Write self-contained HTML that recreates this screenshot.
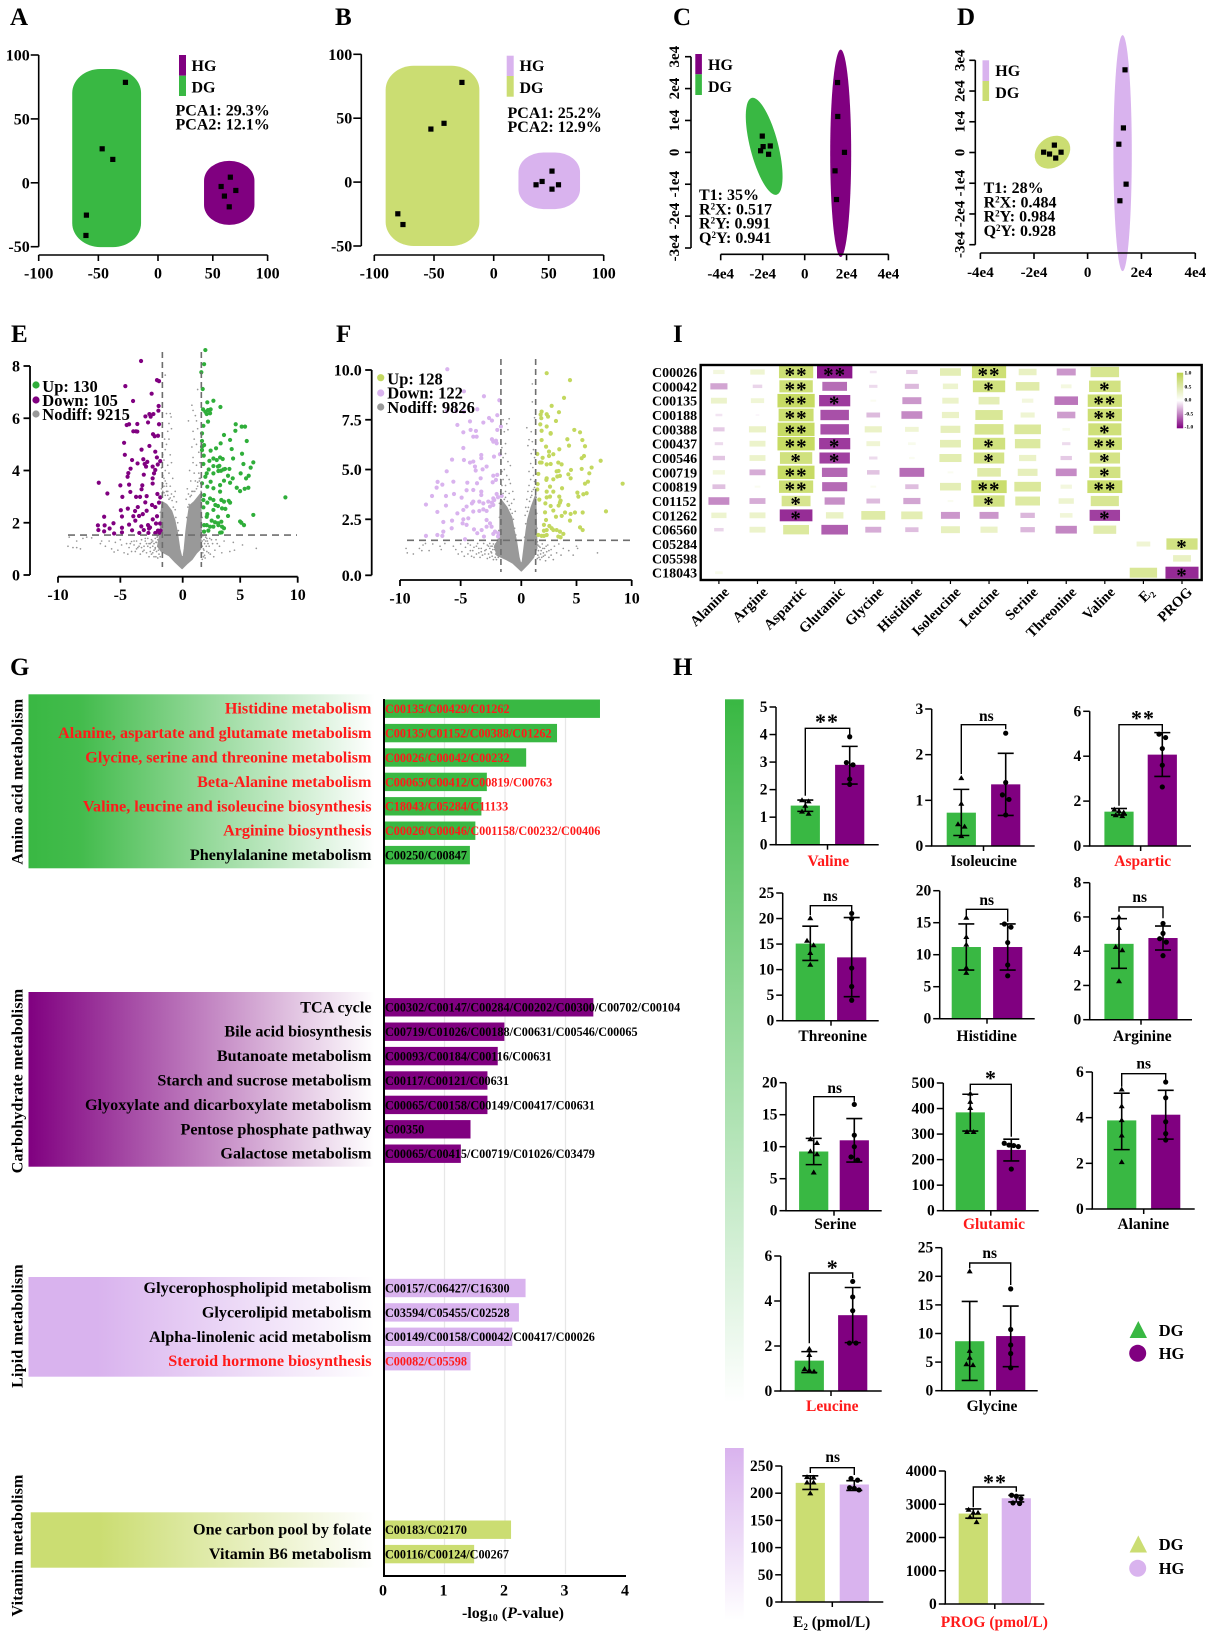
<!DOCTYPE html>
<html lang="en">
<head>
<meta charset="utf-8">
<title>Metabolomics multi-panel figure</title>
<style>
html,body{margin:0;padding:0;background:#fff;}
svg{display:block;font-family:"Liberation Serif",serif;font-weight:bold;}
</style>
</head>
<body>
<svg id="figure" xmlns="http://www.w3.org/2000/svg" width="1211" height="1637" viewBox="0 0 1211 1637">
<defs>
<linearGradient id="gGreen" x1="0" x2="1" y1="0" y2="0"><stop offset="0" stop-color="#39b843"/><stop offset=".15" stop-color="#39b843" stop-opacity=".95"/><stop offset="1" stop-color="#39b843" stop-opacity="0"/></linearGradient>
<linearGradient id="gPurple" x1="0" x2="1" y1="0" y2="0"><stop offset="0" stop-color="#800080"/><stop offset="1" stop-color="#800080" stop-opacity="0"/></linearGradient>
<linearGradient id="gLilac" x1="0" x2="1" y1="0" y2="0"><stop offset="0" stop-color="#d9b3ee"/><stop offset=".2" stop-color="#d9b3ee"/><stop offset="1" stop-color="#d9b3ee" stop-opacity="0"/></linearGradient>
<linearGradient id="gOlive" x1="0" x2="1" y1="0" y2="0"><stop offset="0" stop-color="#cbdd72"/><stop offset=".2" stop-color="#cbdd72"/><stop offset="1" stop-color="#cbdd72" stop-opacity="0"/></linearGradient>
<linearGradient id="vGreen" x1="0" x2="0" y1="0" y2="1"><stop offset="0" stop-color="#39b843"/><stop offset="1" stop-color="#39b843" stop-opacity="0"/></linearGradient>
<linearGradient id="vLilac" x1="0" x2="0" y1="0" y2="1"><stop offset="0" stop-color="#d9b3ee"/><stop offset="1" stop-color="#d9b3ee" stop-opacity="0"/></linearGradient>
<linearGradient id="vBar" x1="0" x2="0" y1="0" y2="1"><stop offset="0" stop-color="#bcd24f"/><stop offset=".5" stop-color="#ffffff"/><stop offset="1" stop-color="#800080"/></linearGradient>
</defs>

<g font-size="25" fill="#000">
<text x="10" y="25">A</text>
<text x="335" y="25">B</text>
<text x="673" y="25">C</text>
<text x="957" y="25">D</text>
<text x="11" y="342">E</text>
<text x="336" y="342">F</text>
<text x="673" y="342">I</text>
<text x="10" y="675">G</text>
<text x="673" y="675">H</text>
</g>

<g id="panelA"></g>
<g font-size="16">
<rect x="179" y="55" width="7" height="20.7" fill="#800080"/>
<rect x="179" y="75.7" width="7" height="20.3" fill="#39b843"/>
<text x="191.5" y="71">HG</text>
<text x="191.5" y="92.5">DG</text>
<text x="175.5" y="115.5">PCA1: 29.3%</text>
<text x="175.5" y="129.5">PCA2: 12.1%</text>
</g>

<g id="panelB"></g>
<g font-size="16">
<rect x="506.7" y="55.7" width="7" height="20.3" fill="#d9b3ee"/>
<rect x="506.7" y="76" width="7" height="20.7" fill="#cbdd72"/>
<text x="519.5" y="71">HG</text>
<text x="519.5" y="93">DG</text>
<text x="507.5" y="118">PCA1: 25.2%</text>
<text x="507.5" y="132">PCA2: 12.9%</text>
</g>

<g id="panelC"></g>
<g font-size="16">
<rect x="695.3" y="54" width="6.6" height="20.3" fill="#800080"/>
<rect x="695.3" y="74.3" width="6.6" height="20.7" fill="#39b843"/>
<text x="708" y="70">HG</text>
<text x="708" y="92">DG</text>
<text x="699" y="200">T1: 35%</text>
<text x="699" y="214.3">R<tspan font-size="9" dy="-5">2</tspan><tspan dy="5">X: 0.517</tspan></text>
<text x="699" y="228.7">R<tspan font-size="9" dy="-5">2</tspan><tspan dy="5">Y: 0.991</tspan></text>
<text x="699" y="243">Q<tspan font-size="9" dy="-5">2</tspan><tspan dy="5">Y: 0.941</tspan></text>
</g>

<g id="panelD"></g>
<g font-size="16">
<rect x="982.5" y="60.3" width="6.6" height="20.7" fill="#d9b3ee"/>
<rect x="982.5" y="81" width="6.6" height="20" fill="#cbdd72"/>
<text x="995.3" y="76">HG</text>
<text x="995.3" y="98">DG</text>
<text x="983.6" y="193">T1: 28%</text>
<text x="983.6" y="207.5">R<tspan font-size="9" dy="-5">2</tspan><tspan dy="5">X: 0.484</tspan></text>
<text x="983.6" y="221.7">R<tspan font-size="9" dy="-5">2</tspan><tspan dy="5">Y: 0.984</tspan></text>
<text x="983.6" y="236">Q<tspan font-size="9" dy="-5">2</tspan><tspan dy="5">Y: 0.928</tspan></text>
</g>

<g id="panelE"></g>
<g font-size="16.5">
<circle cx="36" cy="385" r="3.6" fill="#2fae3a"/>
<circle cx="36" cy="400" r="3.6" fill="#800080"/>
<circle cx="36" cy="414" r="3.6" fill="#999"/>
<text x="42.3" y="392">Up: 130</text>
<text x="42.3" y="406">Down: 105</text>
<text x="42.3" y="420">Nodiff: 9215</text>
</g>

<g id="panelF"></g>
<g font-size="16.5">
<circle cx="380.7" cy="377.7" r="3.6" fill="#c3d85f"/>
<circle cx="380.7" cy="393" r="3.6" fill="#d9b3ee"/>
<circle cx="380.7" cy="407" r="3.6" fill="#999"/>
<text x="387.3" y="384.5">Up: 128</text>
<text x="387.3" y="398.5">Down: 122</text>
<text x="387.3" y="413">Nodiff: 9826</text>
</g>

<g id="panelI"></g>
<g font-size="5.5">
<rect x="1176.8" y="372.7" width="6.4" height="55.6" fill="url(#vBar)"/>
<text x="1184.5" y="374.7">1.0</text>
<text x="1184.5" y="388.3">0.5</text>
<text x="1184.5" y="401.3">0.0</text>
<text x="1184.5" y="415.3">-0.5</text>
<text x="1184.5" y="428.7">-1.0</text>
</g>

<g>
<rect x="28.5" y="694.3" width="346" height="174" fill="url(#gGreen)"/>
<rect x="28.5" y="992" width="346" height="174.7" fill="url(#gPurple)"/>
<rect x="28.5" y="1277" width="346" height="99.7" fill="url(#gLilac)"/>
<rect x="30.7" y="1512.3" width="344" height="55.4" fill="url(#gOlive)"/>
</g>
<g font-size="16" text-anchor="middle" letter-spacing=".2">
<text transform="translate(22.5 781.7) rotate(-90)">Amino acid metabolism</text>
<text transform="translate(22.5 1081) rotate(-90)">Carbohydrate metabolism</text>
<text transform="translate(22.5 1326) rotate(-90)">Lipid metabolism</text>
<text transform="translate(22.5 1545.5) rotate(-90)">Vitamin metabolism</text>
</g>
<g id="panelG"></g>
<text x="513" y="1618" font-size="16" text-anchor="middle">-log<tspan font-size="10" dy="3">10</tspan><tspan dy="-3"> (</tspan><tspan font-style="italic">P</tspan>-value)</text>

<rect x="725" y="699.3" width="18.7" height="703.7" fill="url(#vGreen)"/>
<rect x="725" y="1448" width="18.7" height="172" fill="url(#vLilac)"/>
<g id="panelH"></g>
<g font-size="16.5">
<path d="M1138.3 1321 L1147 1338 L1129.6 1338 Z" fill="#39b843"/>
<circle cx="1137.7" cy="1353.3" r="8.5" fill="#800080"/>
<text x="1158.7" y="1336">DG</text>
<text x="1158.7" y="1359">HG</text>
</g>
<g font-size="16.5">
<path d="M1138.3 1535.5 L1147 1552.5 L1129.6 1552.5 Z" fill="#cbdd72"/>
<circle cx="1137.7" cy="1568.3" r="8.5" fill="#d9b3ee"/>
<text x="1158.7" y="1550">DG</text>
<text x="1158.7" y="1574">HG</text>
</g>
</svg>

<script>
/* ---------- PCA / OPLS data (axis units) ---------- */
const pcaTicksX = [-100, -50, 0, 50, 100];
const pcaTicksY = [-50, 0, 50, 100];
const aDG = [[-27.3,78.6],[-46.8,26.6],[-37.9,18.3],[-60,-25.3],[-60.4,-41.2]];
const aHG = [[66,4.4],[57.6,-2.9],[71,-6],[60.6,-10.4],[65,-18.8]];
const aHullDG = [-71.9,-14.2,-50.3,89];
const aHullHG = [42,88,-32.9,17.2];
const bDG = [[-26.6,78],[-41.6,46],[-52.6,41.5],[-80.3,-24.8],[-76,-33.2]];
const bHG = [[53,8.6],[44,0.5],[38.5,-2.1],[58.9,-2.1],[53,-5.5]];
const bHullDG = [-90.5,-12,-50,91];
const bHullHG = [22.5,78.5,-21.1,23.2];
const oplsTickValuesX = [-4, -2, 0, 2, 4];
const oplsTickLabelsX = ['-4e4','-2e4','0','2e4','4e4'];
const oplsTickValuesY = [-3, -2, -1, 0, 1, 2, 3];
const oplsTickLabelsY = ['-3e4','-2e4','-1e4','0','1e4','2e4','3e4'];
const cDG = [[-2.02,.51],[-1.98,.18],[-1.64,.2],[-2.1,.05],[-1.72,-.06]];
const cHG = [[1.57,2.19],[1.58,1.125],[1.9,0],[1.45,-.58],[1.52,-1.48]];
const cCentreDG = [-1.93,.19];
const cCentreHG = [1.72,-.03];
const dDG = [[-1.64,.01],[-1.42,-.05],[-1.24,.24],[-1.19,-.18],[-.99,.01]];
const dHG = [[1.39,2.69],[1.33,.8],[1.16,.27],[1.43,-1.03],[1.2,-1.57]];
const dCentreDG = [-1.31,.01];
const dCentreHG = [1.3,-.02];

/* ---------- Volcano E (log2FC, -log10 p) ---------- */
const volcanoTicksX = [-10,-5,0,5,10];
const eTicksY = [0,2,4,6,8];
const fTicksY = [0,2.5,5,7.5,10];
const fTickLabelsY = ['0.0','2.5','5.0','7.5','10.0'];
const eThreshold = [-1.63,1.62,1.53];
const fThreshold = [-1.68,1.3,1.56];
const eDown = [[-3.34,8.19],[-4.6,7.23],[-2.06,7.46],[-1.9,7.42],[-2.49,6.94],[-3.98,6.66],[-1.93,6.47],[-1.95,6.29],[-2.67,6.16],[-2.99,6.07],[-2.35,6.16],[-2.57,6.06],[-1.9,5.77],[-4.49,5.74],[-4.3,5.77],[-3.64,5.78],[-3.96,5.5],[-3.64,5.49],[-3.75,5.5],[-2.78,5.84],[-2.38,5.39],[-2.25,5.31],[-1.98,5.33],[-4.7,5.06],[-3.3,4.8],[-2.67,4.94],[-2.2,4.72],[-2.07,4.5],[-4.64,4.6],[-4.06,4.4],[-3.16,4.43],[-2.84,4.33],[-3.62,4.27],[-3.05,4.25],[-2.94,4.15],[-2.41,4.15],[-1.8,4.36],[-2,4.23],[-4.18,4.07],[-4.36,3.9],[-4.42,3.76],[-3.12,3.84],[-2.41,3.7],[-2.2,4.02],[-2.3,3.89],[-2.41,3.5],[-6.73,3.53],[-5,3.43],[-4.3,3.46],[-3.24,3.43],[-3.3,3.28],[-4.2,3.18],[-6.04,3.12],[-4.84,2.99],[-3.74,2.99],[-3.42,2.99],[-2.89,3.02],[-2.03,3.1],[-1.8,2.97],[-1.9,2.77],[-3,2.78],[-2.46,2.68],[-2.2,2.6],[-3.6,2.6],[-4.4,2.54],[-4.96,2.48],[-6.3,2.23],[-3.82,2.45],[-2.89,2.46],[-3.2,2.33],[-3.96,2.25],[-3.5,2.26],[-4.87,2.24],[-2.4,2.13],[-2.06,2.25],[-3.8,2.08],[-5.55,1.98],[-6.8,1.9],[-6.26,1.9],[-4.3,1.93],[-3.32,1.86],[-2.78,1.91],[-2.62,1.82],[-2.14,1.97],[-1.82,1.97],[-6.76,1.72],[-6.3,1.67],[-5.86,1.78],[-4.87,1.81],[-4.06,1.71],[-3.12,1.72],[-2.7,1.78],[-1.98,1.7],[-1.77,1.7],[-5.5,1.59],[-4.87,1.63],[-3.48,1.61],[-2.75,1.61],[-2.2,1.61],[-1.88,1.61]];
const eUp = [[1.97,8.61],[1.86,8.07],[1.62,7.76],[1.74,7.12],[2.67,6.67],[2.14,6.61],[1.77,6.34],[1.97,6.25],[2.2,6.31],[2.43,6.34],[3.28,6.43],[2.09,6.16],[2.38,6.19],[2.2,5.87],[1.8,5.71],[4.61,5.77],[5.42,5.68],[5.13,5.68],[4.58,5.52],[1.68,5.42],[3.59,5.36],[1.68,5.13],[4.12,5.17],[5.57,5.13],[1.68,4.91],[1.86,4.97],[1.68,4.78],[3.3,5.04],[2.9,4.85],[2.43,4.76],[4.26,4.82],[1.83,4.57],[2.67,4.46],[2.32,4.37],[2.96,4.4],[3.25,4.5],[3.48,4.44],[5.16,4.64],[4.38,4.46],[5.28,4.25],[6.14,4.31],[1.8,4.25],[2.26,4.04],[2.67,4.17],[3.07,4.15],[3.19,4.18],[3.54,4.04],[3.33,3.99],[3.1,3.98],[4.06,4.06],[3.68,4.06],[5.91,4.11],[5.04,3.89],[2.67,3.89],[2.09,3.89],[1.97,3.76],[3.94,3.8],[4.35,3.7],[5.74,3.8],[5.51,3.7],[2.43,3.57],[1.68,3.51],[3.59,3.61],[3.25,3.44],[4.12,3.53],[4.7,3.34],[4.99,3.21],[5.39,3.3],[5.71,3.34],[2.14,3.38],[2.67,3.32],[3.25,3.19],[1.86,3.06],[2.38,2.93],[2.67,2.87],[3.36,2.87],[1.8,2.87],[2.14,2.77],[2.84,2.68],[3.07,2.64],[4,2.84],[4.12,2.77],[3.59,2.81],[3.42,2.55],[3.71,2.53],[1.8,2.59],[2.67,2.49],[2.14,2.33],[6.14,2.3],[3.07,2.23],[3.94,2.26],[2.09,2.23],[2.52,2.08],[2.81,2.02],[3.07,1.98],[3.36,2.04],[4.99,2.05],[5.1,2],[5.33,1.91],[1.86,1.91],[2.09,1.91],[2.38,1.85],[2.67,1.85],[3.1,1.91],[3.42,1.85],[3.59,1.79],[1.86,1.66],[2.23,1.7],[3.25,1.62],[3.39,1.63],[8.93,2.97]];
const eNodiff = [[-9.2,1.1],[-8.8,1.05],[-8.5,1.05],[-8.2,1],[-9.1,1.45],[-8.5,1.3],[-8,1.4],[-7.7,1.45],[-7.3,1.42],[-6.5,1.3],[-6.6,1.2],[-5.7,1],[-5.5,.88],[-5.2,.95],[-4.7,.85],[-4.4,.8],[-5,1.35],[-4.1,1.28],[-3.4,1.2],[-2.9,1.2],[-3.1,.95],[-3.8,.9],[-3.4,.8],[-2.3,.95],[-2.9,.85],[-2.5,1.35],[-6.2,1.1],[-5.9,1.3],[-5.4,1.25],[-4.9,1.15],[-4.5,1.2],[-4.3,1.05],[-3.9,1.15],[-3.7,1.3],[-3.6,1.05],[-3.3,1.35],[-3.1,1.1],[-2.8,1.4],[-2.6,1.05],[-2.5,.8],[-2.3,1.2],[-2.2,1.4],[-2.1,.9],[-2,1.1],[-1.9,.8],[-2.7,1.2],[-2.4,1.1],[-2.1,1.25],[-2.2,1.05],[-2,1.35],[2,1.3],[2.1,.9],[2.3,1.1],[2.4,.8],[2.6,1.2],[2.8,.95],[2.9,1.35],[3.2,1.1],[3.4,.85],[3.6,1.3],[4.1,.9],[4.4,1.25],[4.5,.95],[5.2,1.15],[6.4,1.02],[1.8,1],[1.9,.75],[1.7,.6],[-1.8,.7],[1.9,1.2],[2.1,1.4],[-1.4,7.65],[-1,6.18],[-1.3,6.18],[-.93,6.05],[-1.1,5.8],[-.9,5.6],[-1.2,5.5],[-1.1,5.2],[-1.3,5],[-1.4,4.8],[-1,4.6],[-1.5,4.4],[-1.2,4.2],[-.9,4.3],[-1.4,4],[-1.6,3.8],[-1.1,3.9],[-1.4,3.6],[-.8,3.7],[-1,3.4],[-1.5,3.4],[-.6,3.2],[-.7,3],[-.5,2.8],[-1.2,3.2],[-1.3,3.5],[-.9,3.1],[-1.6,4.6],[-1.45,5.2],[.8,6.5],[.9,6.3],[1.1,6.1],[1.3,7.1],[1.2,5.9],[.5,5.9],[.9,5.5],[1.3,5.6],[1,5.2],[1.2,5],[.8,4.9],[1.4,4.7],[.9,4.5],[.9,4.3],[1.2,4.2],[.6,4],[1,3.9],[1.4,3.9],[.7,3.6],[1.1,3.6],[.4,3.3],[.5,3.1],[.8,3.2],[1.3,3.4],[.3,2.9],[1.5,4.3],[1.45,3.7],
[-1.7,3.3],[-1.6,3.2],[-1.5,3.15],[-1.4,3.05],[-1.3,3.2],[-1.2,3.05],[-1.1,2.9],[-1,2.95],[-.85,2.85],[-.75,2.6],[-.6,2.5],[-.55,2.2],[-.4,2],[-.35,1.7],[-1.75,2.8],[-1.8,2.4],[-1.85,2],[-1.9,1.7],[-2,1.5],[-2.15,1.25],[-1.6,3.5],[-1.3,3.4],[-1.5,3.7],[-1.7,4.1],[.55,2.7],[.65,3],[.75,3.05],[.9,3.2],[1.05,3.2],[1.2,3.3],[1.3,3.55],[1.45,3.6],[1.55,3.7],[1.6,3.2],[1.7,2.6],[1.7,2.2],[1.65,1.7],[1.7,1.3],[1.75,1.5],[1.85,1.35],[.35,2.2],[.45,2.6],[-2.4,1.3],[-2.6,1.2],[-2.8,1.1],[-3,1.3],[-3.2,.9],[-2.6,.9],[-2.3,.7],[-2.7,.7],[-2,.65],[-3.5,1.1],[-3.9,1.3],[-4.2,1.2],[-4.1,.9],[-3,1.4],[-2.4,.85],[-1.95,.95],[-2.15,.7],[-2.5,1.25],[-1.9,1.3],[-1.8,1.2],[-3.3,1.05],[-3.7,1],[-2.2,1],[-2.05,1.45],[1.7,1.1],[1.75,.85],[1.85,.95],[1.95,.65],[2.05,1.1],[2.15,1.3],[2.25,.85],[2.5,1.35],[2.7,.7],[3,1.2],[1.8,.7],[2.2,1.2],[2,1.45],[2.35,1.4]];
const eDense = [[-.05,.25],[-.6,.5],[-1.1,.75],[-1.7,.9],[-2,1.1],[-1.8,1.6],[-1.72,2.4],[-1.65,2.8],[-1.3,2.7],[-.9,2.45],[-.65,2.1],[-.45,1.65],[-.25,1],[-.1,.7],[.05,.7],[.15,1],[.3,1.7],[.45,2.2],[.6,2.65],[1,2.8],[1.55,3.1],[1.6,2],[1.55,1],[1.2,.85],[.8,.6],[.4,.45]];

/* ---------- Volcano F ---------- */
const fDown = [[-6.1,10.04],[-4.73,8.93],[-3.08,8.68],[-1.81,8.48],[-6.15,7.94],[-5.38,7.94],[-4.73,7.91],[-3.63,8.03],[-4.23,7.42],[-5.27,7.24],[-3.13,7.36],[-2.66,7.59],[-1.98,7.73],[-2.42,7.46],[-4.18,6.99],[-3.74,6.94],[-4.78,6.87],[-1.68,7.16],[-1.98,6.99],[-3.96,6.65],[-3.68,6.65],[-2.42,6.52],[-2.09,6.45],[-2.31,6.4],[-2.03,6.32],[-4.78,6.08],[-3.3,5.73],[-3.3,5.57],[-5.71,5.5],[-4.73,5.48],[-3.96,5.4],[-4.23,5.35],[-2.25,5.65],[-1.76,5.77],[-3.82,5.15],[-3.76,4.95],[-6.15,4.91],[-2.86,5.15],[-3.19,5.01],[-2.31,4.69],[-1.98,4.73],[-2.09,4.48],[-6.9,4.38],[-5.6,4.39],[-4.45,4.34],[-3.65,4.31],[-2.36,4.36],[-3.35,4.56],[-6.51,4.24],[-6.98,4.09],[-4.51,3.96],[-3.96,3.97],[-4.92,3.59],[-5.55,3.77],[-7.36,3.67],[-6.21,3.67],[-3.3,3.89],[-3.3,3.72],[-2.31,3.55],[-2.03,3.77],[-1.62,3.67],[-1.92,3.61],[-3.46,3.39],[-3.96,3.39],[-4.07,3.3],[-4.51,3.14],[-7.86,3.24],[-6.21,3.19],[-3.13,3.3],[-2.72,3.39],[-2.42,3.34],[-2.23,3.47],[-6.92,2.87],[-5.27,2.8],[-4.78,2.97],[-3.96,2.89],[-3.46,2.92],[-3.13,3],[-2.58,3.14],[-2.31,3.22],[-2.86,2.92],[-5.71,2.44],[-4.78,2.5],[-4.37,2.55],[-2.86,2.47],[-2.58,2.32],[-6.43,2.38],[-5.74,2.1],[-4.84,2.32],[-4.51,2.25],[-6.43,1.95],[-3.9,2.05],[-2.86,2.17],[-2.45,2.17],[-2.17,1.95],[-1.92,1.73],[-3.27,2.02],[-3.63,1.88],[-3.08,1.73],[-7.86,1.76],[-6.92,1.8],[-6.51,1.76],[-4.64,1.61],[-2.31,1.85],[-1.9,1.88]];
const fUp = [[2.3,9.84],[4.41,9.49],[3.87,8.6],[2.75,8.2],[1.84,7.91],[1.75,7.76],[3.41,7.88],[2.3,7.78],[2.42,7.66],[1.81,7.58],[3.14,7.44],[1.72,7.27],[2.3,7.16],[4.8,6.99],[5.32,6.87],[2.66,6.83],[2.66,6.8],[1.84,6.95],[1.84,6.48],[4.17,6.52],[5.53,6.48],[4.32,6.2],[5.77,6.17],[2.24,6.15],[3.44,6.02],[1.45,5.78],[2.51,5.9],[2.9,5.77],[2.51,5.68],[1.93,5.59],[5.68,5.68],[5.47,5.57],[7.19,5.44],[1.69,5.35],[1.84,5.35],[2.3,5.26],[2.66,5.28],[3.35,5.35],[3.65,5.26],[6.37,5.1],[5.47,5.03],[4.5,4.98],[1.54,4.78],[3.2,4.91],[3.38,4.93],[4.26,4.76],[6.16,4.81],[2.3,4.56],[2.27,4.48],[2.9,4.51],[3.26,4.65],[3.5,4.68],[4.47,4.56],[9.18,4.29],[1.48,4.27],[6.04,4.39],[5.77,4.29],[3.69,4.06],[2.6,4.14],[1.45,4],[2.3,3.89],[2.9,3.89],[3.44,3.64],[5.08,3.84],[5.92,3.81],[5.62,3.76],[5.17,3.64],[1.63,3.49],[2.3,3.6],[2.6,3.64],[3.56,3.44],[3.5,3.34],[2.18,3.3],[2.66,3.17],[3.38,3.19],[4.26,3.22],[2.9,2.94],[3.96,2.84],[7.67,2.9],[2.15,2.85],[4.86,2.84],[5.56,2.84],[4.47,2.77],[3.14,2.63],[3.66,2.67],[2.24,2.47],[4.41,2.44],[2.05,2.25],[5.32,2.14],[5.56,2.02],[2.54,2.2],[2.75,2.1],[2.9,2.02],[3.2,2.02],[3.5,1.95],[2.05,1.99],[2.3,2.02],[1.54,1.8],[1.84,1.76],[2.05,1.76],[2.3,1.8],[3.35,1.73],[3.56,1.7],[3.81,1.85]];
const fNodiff = [[-9.5,1.2],[-9.4,1],[-8.9,.95],[-8.4,1.2],[-8.2,1.1],[-8.1,1.35],[-7.9,1.42],[-7.6,1.1],[-7.3,1.4],[-6.7,1.3],[-6.6,1.15],[-6.3,1.42],[-5.6,1.3],[-5.4,1.15],[-5.2,.95],[-5,1.4],[-4.9,1.05],[-4.7,.85],[-4.6,1.25],[-4.4,.95],[-4.2,1.35],[-4,1.1],[-3.9,.8],[-3.7,1.3],[-3.5,1],[-3.4,.8],[-3.3,1.2],[-3.1,1.42],[-3,.95],[-2.9,1.15],[-2.8,.75],[-2.7,1.3],[-2.5,1.05],[-2.4,.85],[-2.3,1.4],[-2.2,1.15],[-2.1,.95],[-2,1.3],[-1.9,.8],[-3.6,1.42],[-2.6,1.42],[-4.4,1.42],[-2.05,.7],[1.5,.9],[1.6,1.3],[1.7,.7],[1.8,1.1],[1.9,1.4],[2,.85],[2.1,1.2],[2.2,.65],[2.3,1.05],[2.4,1.35],[2.5,.8],[2.7,1.15],[2.9,.7],[3,1.3],[3.2,1],[3.4,1.4],[3.6,.9],[3.8,1.2],[4.3,1.1],[4.7,.9],[5,1.3],[5.1,1.2],[6.9,1],[-1.5,7.5],[-1,7.55],[-1.2,7.3],[-1.1,7],[-1.4,6.9],[-1.3,6.3],[-1.6,6.1],[-1.3,5.8],[-1.5,5.6],[-1.1,5.4],[-.9,5.2],[-1.4,5],[-1.6,4.9],[-1.2,4.7],[-1,4.5],[-1.5,4.5],[-.9,4.3],[-1.3,4.2],[-.7,3.9],[-1,3.8],[-.6,3.5],[-.8,3.3],[-.5,2.9],[-1.3,3.9],[1,9.3],[1,8.4],[1.2,7.6],[.5,7.1],[.9,6.9],[.7,6.5],[1,6.4],[.6,6.2],[1.1,6],[.9,5.8],[1.2,5.6],[.85,5.3],[1.05,5.1],[.7,4.9],[1.1,4.7],[.85,4.5],[1.2,4.4],[.7,4.2],[.6,3.9],[.95,3.9],[.5,3.5],[.4,3.1],[.35,2.7],
[-1.7,3.9],[-1.6,3.7],[-1.5,3.8],[-1.4,3.5],[-1.3,3.6],[-1.15,3.4],[-1,3.2],[-.9,3],[-.75,2.8],[-.65,2.5],[-.55,2.1],[-.45,1.8],[-1.8,3.3],[-1.8,2.6],[-1.85,2],[-1.9,1.6],[-2.1,1.4],[-1.6,4.2],[-1.7,4.5],[.55,2.9],[.65,3.1],[.75,3.4],[.85,3.6],[.95,3.7],[1.1,4],[1.2,4.1],[1.3,4.3],[1.35,3.6],[1.4,2.8],[1.42,2.1],[1.45,1.5],[.4,2.3],[.3,1.7],[-2.4,1.3],[-2.6,1.2],[-2.8,1.35],[-3,1.1],[-3.2,.9],[-2.6,.8],[-2.3,.7],[-2.7,.95],[-2.2,1.25],[-3.5,1.2],[-3.9,1.25],[-4.2,1.1],[-4.1,.85],[-3.7,.95],[-2.45,1],[-2.05,1.1],[-2.15,.8],[-2.5,1.3],[-3.3,1.05],[-2.35,1.15],[1.55,1.1],[1.6,.8],[1.7,1.25],[1.75,.95],[1.85,.8],[1.95,1.2],[2,1],[2.15,.9],[2.25,1.3],[2.5,1.1],[2.7,.9],[1.5,1.35],[1.45,.75]];
const fDense = [[0,.2],[-.7,.55],[-1.2,.7],[-2,.9],[-2.2,1.3],[-1.75,1.7],[-1.75,3],[-1.7,3.5],[-1.2,3.1],[-.8,2.6],[-.6,2],[-.4,1.5],[-.2,.8],[-.05,.5],[.1,.6],[.25,1.2],[.45,2],[.6,2.5],[.9,3.1],[1.3,3.7],[1.35,2.5],[1.4,1.2],[1.1,.8],[.6,.5]];

/* ---------- Heatmap I ---------- */
const heatRows = ['C00026','C00042','C00135','C00188','C00388','C00437','C00546','C00719','C00819','C01152','C01262','C06560','C05284','C05598','C18043'];
const heatCols = ['Alanine','Argine','Aspartic','Glutamic','Glycine','Histidine','Isoleucine','Leucine','Serine','Threonine','Valine','E2','PROG'];
const heatValues = [
[.3,.38,.9,-.93,-.18,-.3,.55,.9,.47,-.5,.75,0,0],
[-.45,-.25,.88,-.65,-.22,-.37,.4,.85,.62,.28,.83,0,0],
[.42,.35,.98,-.82,.15,-.5,.43,.55,.3,-.62,.9,0,0],
[-.18,-.1,.92,-.75,-.36,-.55,.45,.72,.37,-.48,.9,0,0],
[-.3,.45,.97,-.75,.45,.36,.52,.76,.7,.2,.87,0,0],
[-.22,.42,.98,-.82,.36,.2,.55,.85,.67,-.22,.9,0,0],
[-.32,.42,.85,-.8,-.22,.15,.58,.8,.45,-.3,.8,0,0],
[.32,-.42,.97,-.67,-.33,-.65,.15,.62,.52,-.55,.82,0,0],
[-.34,.15,.9,-.66,.15,-.35,.55,.93,.7,.3,.92,0,0],
[-.55,-.42,.76,-.53,-.36,-.45,.15,.82,.65,.4,.74,0,0],
[.4,.42,-.86,.46,.63,.56,-.5,-.5,-.38,.33,-.8,0,0],
[-.25,.42,.68,-.7,-.42,-.35,.5,.45,-.38,-.56,.6,0,0],
[0,0,0,0,0,0,0,0,0,0,0,.36,.82],
[0,0,0,0,0,0,0,0,0,0,0,0,.47],
[.2,0,0,0,0,0,0,0,0,0,0,.72,-.87]
];
const heatStars = [
['','','**','**','','','','**','','','','',''],
['','','**','','','','','*','','','*','',''],
['','','**','*','','','','','','','**','',''],
['','','**','','','','','','','','**','',''],
['','','**','','','','','','','','*','',''],
['','','**','*','','','','*','','','**','',''],
['','','*','*','','','','*','','','*','',''],
['','','**','','','','','','','','*','',''],
['','','**','','','','','**','','','**','',''],
['','','*','','','','','*','','','','',''],
['','','*','','','','','','','','*','',''],
['','','','','','','','','','','','',''],
['','','','','','','','','','','','','*'],
['','','','','','','','','','','','',''],
['','','','','','','','','','','','','*']
];

/* ---------- Pathway bars G ---------- */
const pathwayNames = ['Histidine metabolism','Alanine, aspartate and glutamate metabolism','Glycine, serine and threonine metabolism','Beta-Alanine metabolism','Valine, leucine and isoleucine biosynthesis','Arginine biosynthesis','Phenylalanine metabolism','TCA cycle','Bile acid biosynthesis','Butanoate metabolism','Starch and sucrose metabolism','Glyoxylate and dicarboxylate metabolism','Pentose phosphate pathway','Galactose metabolism','Glycerophospholipid metabolism','Glycerolipid metabolism','Alpha-linolenic acid metabolism','Steroid hormone biosynthesis','One carbon pool by folate','Vitamin B6 metabolism'];
const pathwayValues = [3.57,2.86,2.35,1.7,1.61,1.51,1.42,3.46,1.99,1.88,1.71,1.71,1.43,1.27,2.34,2.23,2.12,1.43,2.1,1.49];
const pathwayCompounds = ['C00135/C00429/C01262','C00135/C01152/C00388/C01262','C00026/C00042/C00232','C00065/C00412/C00819/C00763','C18043/C05284/C11133','C00026/C00046/C001158/C00232/C00406','C00250/C00847','C00302/C00147/C00284/C00202/C00300/C00702/C00104','C00719/C01026/C00188/C00631/C00546/C00065','C00093/C00184/C00116/C00631','C00117/C00121/C00631','C00065/C00158/C00149/C00417/C00631','C00350','C00065/C00415/C00719/C01026/C03479','C00157/C06427/C16300','C03594/C05455/C02528','C00149/C00158/C00042/C00417/C00026','C00082/C05598','C00183/C02170','C00116/C00124/C00267'];
const pathwayHighlighted = [1,1,1,1,1,1,0,0,0,0,0,0,0,0,0,0,0,1,0,0];
const pathwayTicks = [0,1,2,3,4];

/* ---------- Bar charts H ---------- */
const hNames = ['Valine','Isoleucine','Aspartic','Threonine','Histidine','Arginine','Serine','Glutamic','Alanine','Leucine','Glycine','E2 (pmol/L)','PROG (pmol/L)'];
const hHighlighted = [1,0,1,0,0,0,0,1,0,1,0,0,1];
const hSig = ['**','ns','**','ns','ns','ns','ns','*','ns','*','ns','ns','**'];
const hTicks = [[0,1,2,3,4,5],[0,1,2,3],[0,2,4,6],[0,5,10,15,20,25],[0,5,10,15,20],[0,2,4,6,8],[0,5,10,15,20],[0,100,200,300,400,500],[0,2,4,6],[0,2,4,6],[0,5,10,15,20,25],[0,50,100,150,200,250],[0,1000,2000,3000,4000]];
const hMeanDG = [1.42,.73,1.53,15.1,11.2,4.43,9.25,385,3.88,1.35,8.65,219,2720];
const hMeanHG = [2.9,1.35,4.07,12.4,11.2,4.77,11,238,4.13,3.37,9.55,216,3180];
const hLowDG = [1.21,.23,1.38,11.8,7.6,3,7.2,312,2.6,.82,1.8,207,2580];
const hHighDG = [1.62,1.24,1.67,18.5,14.8,5.9,11.3,456,5.07,1.75,15.6,232,2860];
const hLowHG = [2.2,.67,3.1,4.7,7.6,4.07,7.6,195,3.06,2.15,4.2,205,3070];
const hHighHG = [3.57,2.03,5.05,20.2,14.8,5.47,14.4,280,5.2,4.6,14.8,223,3270];
const hPointsDG = [
[1.62,1.58,1.42,1.21,1.13],[1.49,.93,.48,.43,.22],[1.63,1.56,1.5,1.38,1.34],[20.1,15.7,14.8,13.3,11],[15.8,12.8,11.6,8,7.2],[6,5.37,4.26,4.07,2.26],[11.2,10.6,9.3,8.85,6],[459,427,403,309,309],[5.24,4.51,3.9,3.23,2.06],[1.88,1.61,.98,.93,.87],[20.9,7,5.8,4.66,4.5],[230,229,220,220,200],[2840,2750,2750,2620,2470]];
const hPointsHG = [
[3.92,2.98,2.9,2.38,2.19],[2.47,1.39,1.12,1.02,.68],[4.98,4.83,4.34,3.6,2.63],[21,20,10.3,6.7,4],[14.8,14.3,11.9,8.4,6.7],[5.62,5.04,4.73,4.53,3.74],[16.6,11.8,10,8.4,7.9],[264,257,255,251,163],[5.56,4.87,3.82,3.3,3.02],[4.87,4.18,3.57,2.13,2.13],[17.8,10.7,8,6.5,4],[227,224,210,209,206],[3270,3240,3170,3040,3020]];
/* layout only (pixels): axis x, top-tick y, baseline y, axis end, DG centre, HG centre, label x, label y, bracket top, left drop, right drop, sig x, sig y */
const hLayout = [
[776,707,844.7,878.7,805.3,849.7,828.3,866,728.3,795.7,736.7,827,719],
[931.7,709,846,1034.7,961.3,1005.7,983.7,866,724.7,774,729.3,986.3,716.7],
[1089.7,711.3,846,1191,1119,1162.3,1142.7,866,724.7,805.7,731.7,1143,715.7],
[782.7,893,1020.7,878.7,810.3,851.7,832.7,1041,905.7,915,911.7,830.3,896.7],
[939.7,890.7,1018.7,1034.7,966.3,1007.7,986.7,1041,909.3,915.7,921.7,986.7,900.7],
[1089.7,882.7,1019.7,1192,1119,1163,1142.3,1041,907,911.7,918.3,1139.7,897.7],
[786,1082.7,1210.7,881.7,813.7,854.3,835.3,1229,1096.7,1136.7,1101.7,834.7,1088.3],
[943.3,1083,1210.7,1038.7,970.3,1011.3,994,1229,1084.3,1090.7,1136.7,991,1075.7],
[1092.3,1072,1209,1194.7,1121.7,1165.7,1143.3,1229,1073.7,1086.7,1080,1143.7,1064],
[780.7,1256,1391,881.7,809.3,852.7,832.3,1411,1273,1343.3,1278.3,832.7,1265],
[941.7,1247.7,1390.7,1037.7,969.7,1010.7,992,1411,1263,1268.3,1285,989.7,1253.3],
[781.7,1466,1602,883.3,810.3,854.3,831.7,1627,1467.7,1473,1475,832.7,1457.3],
[945.3,1471,1604,1044.3,973.3,1016.3,994.3,1627,1487,1507.3,1491.7,995,1479.3]
];

/* ---------- helpers ---------- */
const NS = 'http://www.w3.org/2000/svg';
function tag(el, name, inter) {
  
  
  return el;
}
function mk(parent, type, props) {
  const el = document.createElementNS(NS, type);
  for (const k in props) el.setAttribute(k, props[k]);
  parent.appendChild(el);
  return el;
}
function lin(domain, range) {
  return function (v) {
    let i = 0;
    while (i < domain.length - 2 && v > domain[i + 1]) i++;
    return range[i] + (v - domain[i]) * (range[i + 1] - range[i]) / (domain[i + 1] - domain[i]);
  };
}
function line(p, x1, y1, x2, y2, w, name, color) {
  const l = mk(p, 'line', {x1: x1, y1: y1, x2: x2, y2: y2, stroke: color || '#000', 'stroke-width': w});
  return tag(l, name);
}
function label(p, x, y, s, size, anchor, name, fill) {
  const t = mk(p, 'text', {x: x, y: y, 'font-size': size, 'text-anchor': anchor, fill: fill || '#000'});
  t.textContent = s;
  return tag(t, name);
}
function sq(p, x, y) {
  const r = mk(p, 'rect', {x: x - 2.6, y: y - 2.6, width: 5.2, height: 5.2, fill: '#000'});
  return tag(r, 'sample-point');
}
function hull(p, sx, sy, box, rx, ry, color, name) {
  const x0 = sx(box[0]), x1 = sx(box[1]), y0 = sy(box[3]), y1 = sy(box[2]);
  const r = mk(p, 'rect', {x: x0, y: y0, width: x1 - x0, height: y1 - y0, rx: rx, ry: ry, fill: color});
  return tag(r, name);
}

/* ---------- PCA panels ---------- */
function pcaPanel(root, sx, sy, axisX, axisY, xStart, xEnd, hulls, dg, hg) {
  hull(root, sx, sy, hulls[0], 28, 24, hulls[2], 'dg-cluster-region');
  hull(root, sx, sy, hulls[1], 25, 20, hulls[3], 'hg-cluster-region');
  line(root, axisX, sy(100), axisX, sy(-50), 1.6, 'y-axis');
  pcaTicksY.forEach(function (v) {
    line(root, axisX - 8, sy(v), axisX, sy(v), 1.6, 'y-tick');
    label(root, axisX - 9, sy(v) + 5.5, String(v), 16, 'end', 'y-tick-label');
  });
  line(root, xStart, axisY, xEnd, axisY, 1.6, 'x-axis');
  pcaTicksX.forEach(function (v) {
    line(root, sx(v), axisY, sx(v), axisY + 6, 1.6, 'x-tick');
    label(root, sx(v), axisY + 23.5, String(v), 16, 'middle', 'x-tick-label');
  });
  dg.concat(hg).forEach(function (d) { sq(root, sx(d[0]), sy(d[1])); });
}
pcaPanel(document.getElementById('panelA'), lin([-100,0,100],[38.7,158,267.6]), lin([-50,100],[246.7,55]), 38.7, 255, 38.7, 267.6, [aHullDG, aHullHG, '#39b843', '#800080'], aDG, aHG);
pcaPanel(document.getElementById('panelB'), lin([-100,0,100],[374.3,493.7,603.7]), lin([-50,100],[246,54.3]), 361.3, 255, 374.3, 603.7, [bHullDG, bHullHG, '#cbdd72', '#d9b3ee'], bDG, bHG);

/* ---------- OPLS panels ---------- */
function oplsPanel(root, sx, sy, axisX, axisY, labelX, ell, dg, hg) {
  ell.forEach(function (e) {
    const o = mk(root, 'ellipse', {cx: 0, cy: 0, rx: e.rx, ry: e.ry, fill: e.color, transform: 'translate(' + sx(e.c[0]) + ' ' + sy(e.c[1]) + ') rotate(' + e.rot + ')'});
    tag(o, e.name);
  });
  line(root, axisX, sy(3), axisX, sy(-3), 1.6, 'y-axis');
  oplsTickValuesY.forEach(function (v, i) {
    line(root, axisX - 6, sy(v), axisX, sy(v), 1.6, 'y-tick');
    const t = mk(root, 'text', {'font-size': 15, 'text-anchor': 'middle', transform: 'translate(' + labelX + ' ' + sy(v) + ') rotate(-90)'});
    t.textContent = oplsTickLabelsY[i];
    tag(t, 'y-tick-label');
  });
  line(root, sx(-4), axisY, sx(4), axisY, 1.6, 'x-axis');
  oplsTickValuesX.forEach(function (v, i) {
    line(root, sx(v), axisY, sx(v), axisY + 6, 1.6, 'x-tick');
    label(root, sx(v), axisY + 24, oplsTickLabelsX[i], 15, 'middle', 'x-tick-label');
  });
  dg.concat(hg).forEach(function (d) { sq(root, sx(d[0]), sy(d[1])); });
}
oplsPanel(document.getElementById('panelC'), lin([-4,0,4],[720.7,804.7,888.4]), lin([-3,3],[248,56.7]), 691, 254.3, 679,
  [{c: cCentreDG, rx: 14, ry: 50, rot: -14.4, color: '#39b843', name: 'dg-confidence-ellipse'},
   {c: cCentreHG, rx: 10.5, ry: 103.7, rot: 0, color: '#800080', name: 'hg-confidence-ellipse'}], cDG, cHG);
oplsPanel(document.getElementById('panelD'), lin([-4,0,4],[980.4,1087.6,1195.3]), lin([-3,3],[244.7,60.3]), 975.3, 253, 964.5,
  [{c: dCentreDG, rx: 19, ry: 15, rot: -35, color: '#cbdd72', name: 'dg-confidence-ellipse'},
   {c: dCentreHG, rx: 9.2, ry: 118, rot: 0, color: '#d9b3ee', name: 'hg-confidence-ellipse'}], dDG, dHG);

/* ---------- Volcano panels ---------- */
function volcano(root, sx, sy, cfg) {
  const poly = mk(root, 'polygon', {points: cfg.dense.map(function (d) { return sx(d[0]) + ',' + sy(d[1]); }).join(' '), fill: '#999', stroke: '#999', 'stroke-width': 1.5, 'stroke-linejoin': 'round'});
  tag(poly, 'nodiff-dense-cloud');
  cfg.nodiff.forEach(function (d) {
    const c = mk(root, 'circle', {cx: sx(d[0]), cy: sy(d[1]), r: .85, fill: '#969696'});
    tag(c, 'nodiff-point');
  });
  cfg.down.forEach(function (d) {
    const c = mk(root, 'circle', {cx: sx(d[0]), cy: sy(d[1]), r: 2.1, fill: cfg.downColor});
    tag(c, 'down-point');
  });
  cfg.up.forEach(function (d) {
    const c = mk(root, 'circle', {cx: sx(d[0]), cy: sy(d[1]), r: 2.1, fill: cfg.upColor});
    tag(c, 'up-point');
  });
  [0, 1].forEach(function (i) {
    const l = line(root, sx(cfg.thr[i]), cfg.vTop, sx(cfg.thr[i]), cfg.vBot, 1.6, 'fold-change-threshold', '#6e6e6e');
    l.setAttribute('stroke-dasharray', '6 4');
  });
  const h = line(root, cfg.hStart, sy(cfg.thr[2]), cfg.hEnd, sy(cfg.thr[2]), 1.6, 'p-value-threshold', '#6e6e6e');
  h.setAttribute('stroke-dasharray', '7 5');
  line(root, cfg.axisX, sy(cfg.ticksY[cfg.ticksY.length - 1]), cfg.axisX, sy(0), 1.8, 'y-axis');
  cfg.ticksY.forEach(function (v, i) {
    line(root, cfg.axisX - 6.5, sy(v), cfg.axisX, sy(v), 1.8, 'y-tick');
    label(root, cfg.axisX - 10, sy(v) + 5.5, cfg.labelsY ? cfg.labelsY[i] : String(v), 16, 'end', 'y-tick-label');
  });
  line(root, sx(-10), cfg.axisY, sx(10), cfg.axisY, 1.8, 'x-axis');
  volcanoTicksX.forEach(function (v) {
    line(root, sx(v), cfg.axisY, sx(v), cfg.axisY + 6, 1.8, 'x-tick');
    label(root, sx(v), cfg.axisY + 23.5, String(v), 16, 'middle', 'x-tick-label');
  });
}
volcano(document.getElementById('panelE'), lin([-10,0,10],[58,182.7,297.7]), lin([0,8],[575,366]), {
  dense: eDense, nodiff: eNodiff, down: eDown, up: eUp, downColor: '#800080', upColor: '#2fae3a', thr: eThreshold,
  vTop: 352, vBot: 567, hStart: 68, hEnd: 297, axisX: 30, axisY: 576.7, ticksY: eTicksY
});
volcano(document.getElementById('panelF'), lin([-10,0,10],[400,521.3,631.7]), lin([0,2.5,10],[575.3,519.3,370]), {
  dense: fDense, nodiff: fNodiff, down: fDown, up: fUp, downColor: '#d9b3ee', upColor: '#c3d85f', thr: fThreshold,
  vTop: 359, vBot: 572, hStart: 407, hEnd: 635, axisX: 371.7, axisY: 580, ticksY: fTicksY, labelsY: fTickLabelsY
});

/* ---------- Heatmap ---------- */
(function () {
  const root = document.getElementById('panelI');
  const colX = lin([0, heatCols.length - 1], [718.9, 1182]);
  const rowY = lin([0, heatRows.length - 1], [372, 572.7]);
  heatRows.forEach(function (row, r) {
    label(root, 652, rowY(r) + 5, row, 14, 'start', 'row-label');
    heatCols.forEach(function (col, c) {
      const v = heatValues[r][c];
      if (!v) return;
      const a = Math.abs(v);
      const cell = mk(root, 'rect', {x: colX(c) - 19 * a, y: rowY(r) - 6.9 * a, width: 38 * a, height: 13.8 * a, fill: v > 0 ? '#c5da5f' : '#800080', 'fill-opacity': Math.pow(a, 1.3)});
      tag(cell, 'heat-cell');
      if (heatStars[r][c]) {
        const st = mk(root, 'text', {x: colX(c), y: rowY(r) + 10, 'font-size': 21, 'text-anchor': 'middle', 'letter-spacing': '1'});
        st.textContent = heatStars[r][c];
        tag(st, 'significance-marker');
      }
    });
  });
  const frame = mk(root, 'rect', {x: 700.7, y: 365, width: 501, height: 215, fill: 'none', stroke: '#000', 'stroke-width': 2.4});
  tag(frame, 'heatmap-frame');
  heatCols.forEach(function (col, c) {
    line(root, colX(c), 581, colX(c), 584, 1.2, 'column-tick');
    const t = mk(root, 'text', {'font-size': 14.5, 'text-anchor': 'end', transform: 'translate(' + (colX(c) + 11) + ' 593) rotate(-45)'});
    if (col === 'E2') {
      t.textContent = 'E';
      const s = mk(t, 'tspan', {'font-size': 9, dy: 3});
      s.textContent = '2';
      tag(s, 'subscript');
    } else {
      t.textContent = col;
    }
    tag(t, 'column-label');
  });
})();

/* ---------- Pathway bars ---------- */
(function () {
  const root = document.getElementById('panelG');
  const sx = lin([0, 4], [384, 626]);
  const groups = [
    {start: 708.7, n: 7, color: '#39b843'},
    {start: 1007.3, n: 7, color: '#800080'},
    {start: 1288, n: 4, color: '#d9b3ee'},
    {start: 1529.7, n: 2, color: '#cbdd72'}
  ];
  pathwayTicks.slice(1, 4).forEach(function (v) {
    line(root, sx(v), 700, sx(v), 1574, 1.2, 'grid-line', '#e7e7e7');
  });
  let idx = 0;
  groups.forEach(function (g) {
    for (let k = 0; k < g.n; k++, idx++) {
      const y = g.start + k * 24.4;
      const col = pathwayHighlighted[idx] ? '#ff1a1a' : '#000';
      label(root, 371.5, y + 5, pathwayNames[idx], 16.15, 'end', 'pathway-label', col);
      const bar = mk(root, 'rect', {x: sx(0), y: y - 9.2, width: sx(pathwayValues[idx]) - sx(0), height: 18.4, fill: g.color});
      tag(bar, 'pathway-bar');
      label(root, 385, y + 4.4, pathwayCompounds[idx], 12.2, 'start', 'compound-list', col);
    }
  });
  line(root, sx(0), 699, sx(0), 1577, 2, 'y-axis');
  line(root, sx(0), 1576, sx(4), 1576, 2, 'x-axis');
  pathwayTicks.forEach(function (v) {
    label(root, sx(v) - 1, 1595.5, String(v), 16, 'middle', 'x-tick-label');
  });
})();

/* ---------- H bar charts ---------- */
function swarm(values, scale, step) {
  const sorted = values.slice().sort(function (a, b) { return b - a; });
  const placed = [];
  let bin = [];
  function flush() {
    bin.forEach(function (y, j) {
      placed.push({y: y, off: (j - (bin.length - 1) / 2) * step * (bin.length === 2 ? 1.4 : 1)});
    });
    bin = [];
  }
  sorted.forEach(function (v) {
    const y = scale(v);
    if (bin.length && Math.abs(y - bin[0]) >= 5) flush();
    bin.push(y);
  });
  flush();
  return placed;
}
(function () {
  const root = document.getElementById('panelH');
  hNames.forEach(function (name, i) {
    const L = hLayout[i];
    const axisX = L[0], top = L[1], base = L[2], end = L[3], cD = L[4], cH = L[5];
    const ticks = hTicks[i];
    const sy = lin([0, ticks[ticks.length - 1]], [base, top]);
    const hormone = i >= 11;
    const colD = hormone ? '#cbdd72' : '#39b843';
    const colH = hormone ? '#d9b3ee' : '#800080';
    const g = tag(mk(root, 'g', {}), 'bar-chart-' + name.split(' ')[0].toLowerCase());
    const bD = mk(g, 'rect', {x: cD - 14.6, y: sy(hMeanDG[i]), width: 29.2, height: base - sy(hMeanDG[i]), fill: colD});
    tag(bD, 'bar-dg');
    const bH = mk(g, 'rect', {x: cH - 14.6, y: sy(hMeanHG[i]), width: 29.2, height: base - sy(hMeanHG[i]), fill: colH});
    tag(bH, 'bar-hg');
    line(g, axisX, top, axisX, base, 1.5, 'y-axis');
    line(g, axisX - 1, base, end, base, 1.5, 'x-axis');
    line(g, (cD + cH) / 2, base, (cD + cH) / 2, base + 5, 1.5, 'x-tick');
    ticks.forEach(function (v) {
      line(g, axisX - 6.5, sy(v), axisX, sy(v), 1.5, 'y-tick');
      label(g, axisX - 8.5, sy(v) + 5, String(v), 15.5, 'end', 'y-tick-label');
    });
    [[cD, hLowDG[i], hHighDG[i], 'dg'], [cH, hLowHG[i], hHighHG[i], 'hg']].forEach(function (e) {
      line(g, e[0], sy(e[1]), e[0], sy(e[2]), 1.6, 'error-bar-' + e[3]);
      line(g, e[0] - 8, sy(e[1]), e[0] + 8, sy(e[1]), 1.6, 'error-cap-' + e[3]);
      line(g, e[0] - 8, sy(e[2]), e[0] + 8, sy(e[2]), 1.6, 'error-cap-' + e[3]);
    });
    swarm(hPointsDG[i], sy, 4.7).forEach(function (p) {
      const x = cD + p.off;
      const tri = mk(g, 'path', {d: 'M' + x + ' ' + (p.y - 2.8) + 'L' + (x + 3) + ' ' + (p.y + 2.2) + 'L' + (x - 3) + ' ' + (p.y + 2.2) + 'Z', fill: '#000'});
      tag(tri, 'point-dg');
    });
    swarm(hPointsHG[i], sy, 4.7).forEach(function (p) {
      const c = mk(g, 'circle', {cx: cH + p.off, cy: p.y, r: 2.6, fill: '#000'});
      tag(c, 'point-hg');
    });
    const br = mk(g, 'path', {d: 'M' + cD + ' ' + L[9] + 'V' + L[8] + 'H' + cH + 'V' + L[10], fill: 'none', stroke: '#000', 'stroke-width': 1.4});
    tag(br, 'significance-bracket');
    if (hSig[i] === 'ns') {
      label(g, L[11], L[12] + 4.5, 'ns', 15.5, 'middle', 'significance-label');
    } else {
      const st = label(g, L[11], L[12] + 10, hSig[i], 22, 'middle', 'significance-label');
      st.setAttribute('letter-spacing', '1');
    }
    const col = hHighlighted[i] ? '#ff1a1a' : '#000';
    if (name.indexOf('E2') === 0) {
      const t = label(g, L[6], L[7], 'E', 15.5, 'middle', 'x-axis-label', col);
      const s1 = mk(t, 'tspan', {'font-size': 9, dy: 3});
      s1.textContent = '2';
      tag(s1, 'subscript');
      const s2 = mk(t, 'tspan', {dy: -3});
      s2.textContent = name.slice(2);
      tag(s2, 'unit');
    } else {
      label(g, L[6], L[7], name, 15.5, 'middle', 'x-axis-label', col);
    }
  });
})();
</script>
</body>
</html>
